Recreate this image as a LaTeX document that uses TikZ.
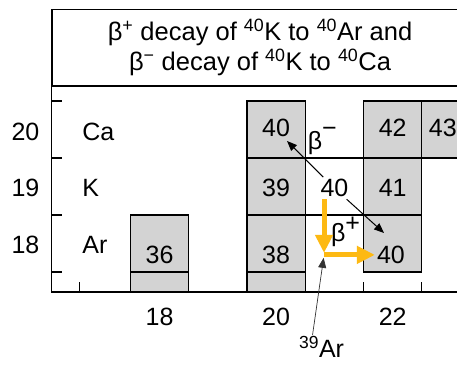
\documentclass[tikz,border=0pt]{standalone}
\usepackage{fontspec}
\setmainfont{Liberation Sans}
\usetikzlibrary{arrows.meta,positioning}
\definecolor{cellgray}{RGB}{211,211,211}
\definecolor{decayyellow}{RGB}{253,185,19}

\begin{document}
\begin{tikzpicture}[
    x=58.3pt, y=57pt,
    cell/.style={rectangle, draw=black, fill=cellgray, line width=1.1pt,
        minimum width=58.3pt, minimum height=57pt, inner sep=0pt},
    num/.style={font=\fontsize{25}{30}\selectfont, inner sep=2pt},
    lab/.style={font=\fontsize{25}{30}\selectfont, inner sep=2pt},
    arr/.style={-{Triangle[length=10pt, width=8pt]}, line width=1pt},
    yarr/.style={-{Triangle[length=18pt, width=17pt]}, line width=5pt, decayyellow},
    pointer/.style={-{Triangle[length=10pt, width=8pt]}, line width=0.7pt, black!80}
]
    \useasboundingbox (15.264,15.868) rectangle (23.103,22.272);

    % title box
    \node[draw, line width=1.1pt, minimum width=416pt, minimum height=76.5pt,
        align=center, font=\fontsize{25.5}{30}\selectfont] (title) at (19.724,21.434)
        {β\textsuperscript{+} decay of \textsuperscript{40}K to \textsuperscript{40}Ar and\\
         β\textsuperscript{−} decay of \textsuperscript{40}K to \textsuperscript{40}Ca};

    % nuclide cells
    \node[cell] (ca40) at (20,20) {};
    \node[cell] (k39) at (20,19) {};
    \node[cell] (ar38) at (20,18) {};
    \node[cell] (ar36) at (18,18) {};
    \node[cell, fill=white] (k40) at (21,19) {};
    \node[cell] (ca42) at (22,20) {};
    \node[cell] (k41) at (22,19) {};
    \node[cell] (ar40) at (22,18) {};
    \node[cell] (ca43) at (23,20) {};
    \filldraw[fill=cellgray, line width=1.1pt] (17.5,17.149) rectangle (18.5,17.5)
        (19.5,17.149) rectangle (20.5,17.5);

    % mass numbers
    \node[num] (ca40t) at (20,20.03) {40};
    \node[num] (k39t) at (20,18.97) {39};
    \node[num] (ar38t) at (20,17.80) {38};
    \node[num] (ar36t) at (18,17.80) {36};
    \node[num] (k40t) at (21,18.97) {40};
    \node[num] (ca42t) at (22,20.03) {42};
    \node[num] (k41t) at (22,18.97) {41};
    \node[num] (ar40t) at (21.97,17.80) {40};
    \node[num] (ca43t) at (22.86,20.03) {43};

    % axes and ticks
    \draw[line width=1.1pt] (title.south west) |- (23.2,17.149);
    \draw[line width=1.1pt] (16.156,20.5) -- ++(10pt,0) (16.156,19.5) -- ++(10pt,0)
        (16.156,18.5) -- ++(10pt,0) (16.156,17.5) -- ++(10pt,0)
        (16.62,17.149) -- ++(0,10pt) (21.5,17.149) -- ++(0,10pt) (22.5,17.149) -- ++(0,10pt);

    % axis labels
    \node[lab] (z20) at (15.70,19.956) {20};
    \node[lab] (z19) at (15.70,18.97) {19};
    \node[lab] (z18) at (15.70,17.97) {18};
    \node[lab, anchor=west] (ca) at (16.64,19.956) {Ca};
    \node[lab, anchor=west] (k) at (16.64,18.97) {K};
    \node[lab, anchor=west] (ar) at (16.64,17.97) {Ar};
    \node[lab] (n18) at (18,16.71) {18};
    \node[lab] (n20) at (20,16.71) {20};
    \node[lab] (n22) at (22,16.71) {22};

    % decay labels
    \node[lab, anchor=base west, inner sep=0pt] (bminus) at (20.54,19.640) {β\raisebox{0.55em}{−}};
    \node[lab, anchor=base west, inner sep=0pt] (bplus) at (20.94,18.026) {β\raisebox{0.4em}{+}};

    % decay arrows
    \coordinate (tipm) at (20.187,19.798);
    \coordinate (tipp) at (21.851,18.184);
    \coordinate (ar39) at (20.822,17.80);
    \draw[arr] (k40t) -- (tipm);
    \draw[arr] (k40t) -- (tipp);
    \draw[yarr, shorten >=2pt] (k40t.south -| ar39) -- (ar39);
    \draw[yarr] (ar39) -- (ar40t);

    % 39Ar pointer
    \node[lab, anchor=base, inner sep=1pt] (ar39t) at (20.779,16.0) {\textsuperscript{39}Ar};
    \draw[pointer, shorten >=3pt] ([xshift=-9pt]ar39t.north) -- (ar39);
\end{tikzpicture}
\end{document}
